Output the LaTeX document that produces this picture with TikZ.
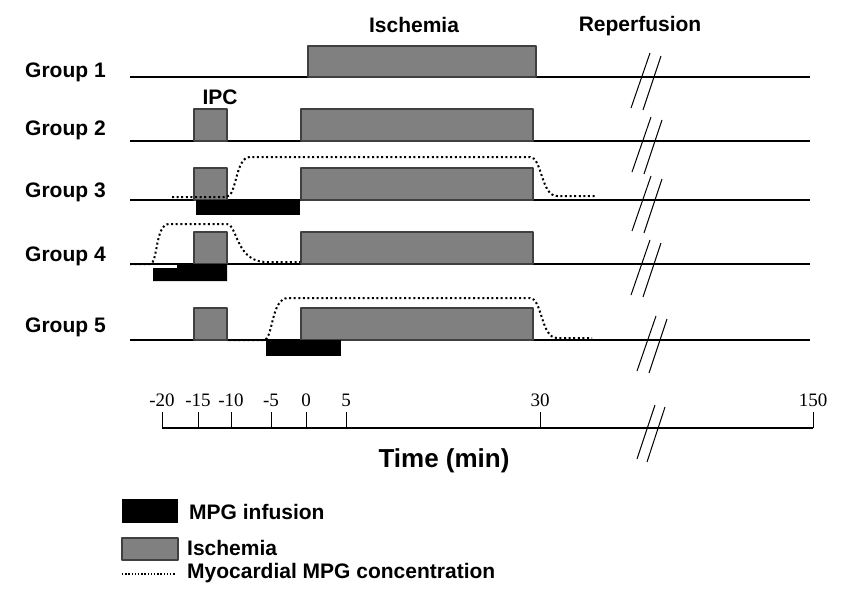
\documentclass[tikz,border=0pt]{standalone}
\usepackage{fontspec}
\setmainfont{Liberation Sans}
\newfontfamily\numfont{Liberation Serif}
\usetikzlibrary{positioning}
\definecolor{ischgray}{HTML}{808080}
\definecolor{edgegray}{HTML}{404040}

\begin{document}
\begin{tikzpicture}[x=1pt,y=-1pt,line join=round,
  isch/.style={fill=ischgray,draw=edgegray,line width=1.2pt},
  infusion/.style={fill=black},
  conc/.style={line width=2pt,dash pattern=on 2pt off 2.6pt},
  baseline/.style={line width=1.3pt},
  brk/.style={line width=1pt},
  lab/.style={font=\fontsize{21}{24}\selectfont\bfseries,inner sep=0pt},
  ticklab/.style={font=\numfont\fontsize{19}{21}\selectfont,inner sep=0pt}]
  \useasboundingbox (0,0) rectangle (842,600);

  % Group rows: baseline, label, break marks
  \foreach \g/\y/\ty/\dx in {1/77/77/0,2/141/135/1,3/200/197/1,4/264/261/0,5/340/332/6}{
    \draw[baseline] (130,\y) -- (810,\y);
    \node[lab,anchor=base west] (grp\g) at (25,\ty) {Group \g};
    \draw[brk] (631+\dx,\y+31) -- (650+\dx,\y-24);
    \draw[brk] (643+\dx,\y+33) -- (661+\dx,\y-21);
  }

  % Ischemia boxes
  \draw[isch] (308,46) rectangle (536,77);
  \foreach \y in {141,200,264,340}{
    \draw[isch] (301,\y-32) rectangle (533,\y);
  }

  % IPC boxes
  \foreach \y in {141,200,264,340}{
    \draw[isch] (194,\y-32) rectangle (227,\y);
  }

  % MPG infusion bars
  \fill[infusion] (196,200) rectangle (300,215);
  \fill[infusion] (153,268) -- (177,268) -- (177,264) -- (227,264) -- (227,281) -- (153,281) -- cycle;
  \fill[infusion] (266,340) rectangle (341,356);

  % Myocardial MPG concentration
  \draw[conc] (172,197) -- (226,197) .. controls (237,197) and (235,157) .. (250,157)
    -- (530,157) .. controls (542,157) and (541,196) .. (557,196) -- (597,196);
  \draw[conc] (130,264) -- (150,264) .. controls (158,264) and (155,224) .. (169,224)
    -- (227,224) .. controls (237,224) and (236,262) .. (266,262) -- (300,262);
  \draw[conc] (229,340) -- (264,340) .. controls (273,340) and (271,298) .. (288,298)
    -- (530,298) .. controls (542,298) and (541,338) .. (557,338) -- (592,338);

  % Headers
  \node[lab,anchor=base] (ischhead) at (414,32) {Ischemia};
  \node[lab,anchor=base] (rephead) at (640,31) {Reperfusion};
  \node[lab,anchor=base] (ipchead) at (220,104) {IPC};

  % Time axis
  \draw[baseline] (162,428) -- (813,428);
  \foreach \x/\t in {162/-20,198/-15,231/-10,271/-5,306/0,346/5,540/30,813/150}{
    \draw[line width=1pt] (\x,412) -- (\x,428);
    \node[ticklab,anchor=base] (tick\t) at (\x,406) {\t};
  }
  \draw[brk] (637,459) -- (655,405);
  \draw[brk] (647,462) -- (665,407);
  \node[font=\fontsize{26}{30}\selectfont\bfseries,inner sep=0pt,anchor=base] (timelab) at (444,467) {Time (min)};

  % Legend
  \fill[infusion] (122,499) rectangle (178,523);
  \node[lab,anchor=base west] (leginf) at (189,519) {MPG infusion};
  \draw[isch] (122,538) rectangle (178,560);
  \node[lab,anchor=base west] (legisch) at (187,555) {Ischemia};
  \draw[line width=1.3pt,dash pattern=on 1.3pt off 1.9pt] (122,574) -- (176,574);
  \node[lab,anchor=base west] (legconc) at (187,578) {Myocardial MPG concentration};
\end{tikzpicture}
\end{document}
